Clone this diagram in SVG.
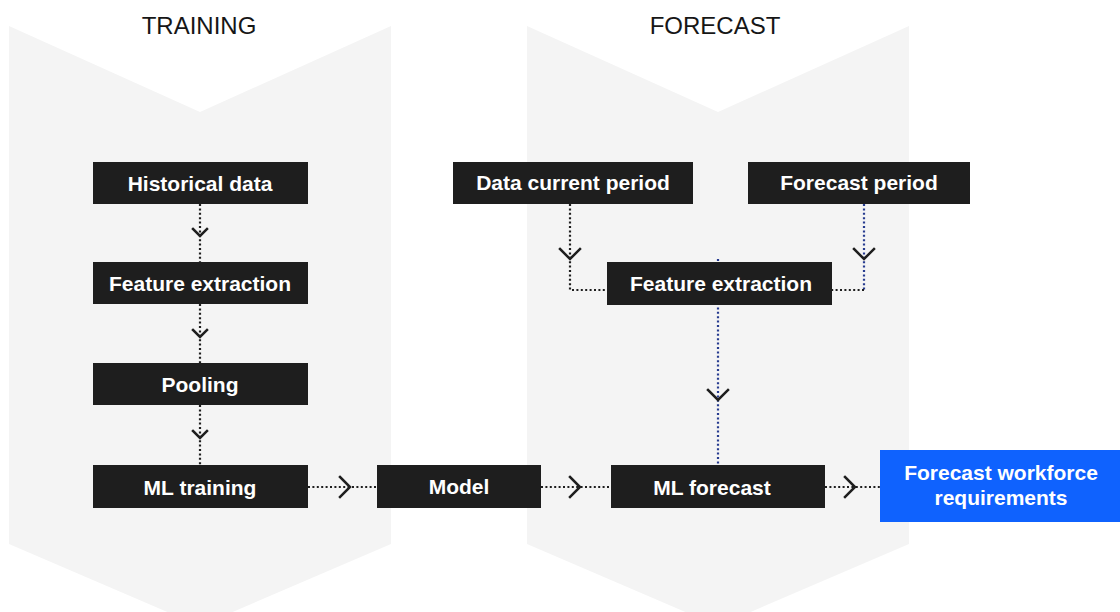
<svg xmlns="http://www.w3.org/2000/svg" width="1120" height="612" viewBox="0 0 1120 612">
<style>
.bg{fill:#f4f4f4}
.title{font-family:"Liberation Sans",Arial,sans-serif;font-size:24px;fill:#161616;text-anchor:middle}
.box{fill:#1e1e1e}
.blue{fill:#0f62fe}
.lbl{font-family:"Liberation Sans",Arial,sans-serif;font-size:21px;font-weight:bold;fill:#ffffff;text-anchor:middle}
.dk{fill:none;stroke:#1e1e1e;stroke-width:2.2;stroke-dasharray:2 2.4}
.bl{fill:none;stroke:#263b8f;stroke-width:2.2;stroke-dasharray:2 2.4}
.arr{fill:none;stroke:#1e1e1e;stroke-width:2.5;stroke-linecap:square;stroke-linejoin:miter}
</style>
<rect width="1120" height="612" fill="#ffffff"/>
<g id="training-stage">
<polygon class="bg" points="9,26 200,112 391,26 391,544 200,626 9,544"/>
<text class="title" x="199" y="34">TRAINING</text>
</g>
<g id="forecast-stage">
<polygon class="bg" points="527,26 718,112 909,26 909,544 718,626 527,544"/>
<text class="title" x="715" y="34">FORECAST</text>
</g>
<g id="connectors">
<line class="dk" x1="200" y1="204" x2="200" y2="262"/>
<polyline class="arr" points="193,229 200,236 207,229"/>
<line class="dk" x1="200" y1="304" x2="200" y2="363"/>
<polyline class="arr" points="193,330 200,337 207,330"/>
<line class="dk" x1="200" y1="405" x2="200" y2="465"/>
<polyline class="arr" points="193,431 200,438 207,431"/>
<line class="dk" x1="308" y1="487" x2="377" y2="487"/>
<polyline class="arr" points="340,477 350,487 340,497"/>
<line class="dk" x1="541" y1="487" x2="611" y2="487"/>
<polyline class="arr" points="570,477 580,487 570,497"/>
<line class="dk" x1="825" y1="487" x2="880" y2="487"/>
<polyline class="arr" points="845,477 855,487 845,497"/>
<polyline class="dk" points="570,204 570,290 607,290"/>
<polyline class="arr" points="560,249 570,259 580,249"/>
<line class="bl" x1="864" y1="204" x2="864" y2="290"/>
<line class="dk" x1="864" y1="290" x2="832" y2="290"/>
<polyline class="arr" points="854,249 864,259 874,249"/>
<line class="bl" x1="718" y1="259" x2="718" y2="466"/>
<polyline class="arr" points="708,390 718,400 728,390"/>
</g>
<g id="historical-data">
<rect class="box" x="93" y="162" width="215" height="42"/>
<text class="lbl" x="200" y="191">Historical data</text>
</g>
<g id="feature-extraction-training">
<rect class="box" x="93" y="262" width="215" height="42"/>
<text class="lbl" x="200" y="291">Feature extraction</text>
</g>
<g id="pooling">
<rect class="box" x="93" y="363" width="215" height="42"/>
<text class="lbl" x="200" y="392">Pooling</text>
</g>
<g id="ml-training">
<rect class="box" x="93" y="465" width="215" height="43"/>
<text class="lbl" x="200" y="495">ML training</text>
</g>
<g id="model">
<rect class="box" x="377" y="465" width="164" height="43"/>
<text class="lbl" x="459" y="494">Model</text>
</g>
<g id="data-current-period">
<rect class="box" x="453" y="162" width="240" height="42"/>
<text class="lbl" x="573" y="190">Data current period</text>
</g>
<g id="forecast-period">
<rect class="box" x="748" y="162" width="222" height="42"/>
<text class="lbl" x="859" y="190">Forecast period</text>
</g>
<g id="feature-extraction-forecast">
<rect class="box" x="607" y="262" width="225" height="43"/>
<text class="lbl" x="721" y="291">Feature extraction</text>
</g>
<g id="ml-forecast">
<rect class="box" x="611" y="465" width="214" height="43"/>
<text class="lbl" x="712" y="495">ML forecast</text>
</g>
<g id="forecast-workforce-requirements">
<rect class="blue" x="880" y="450" width="240" height="72"/>
<text class="lbl" x="1001" y="480">Forecast workforce</text>
<text class="lbl" x="1001" y="505">requirements</text>
</g>
</svg>
